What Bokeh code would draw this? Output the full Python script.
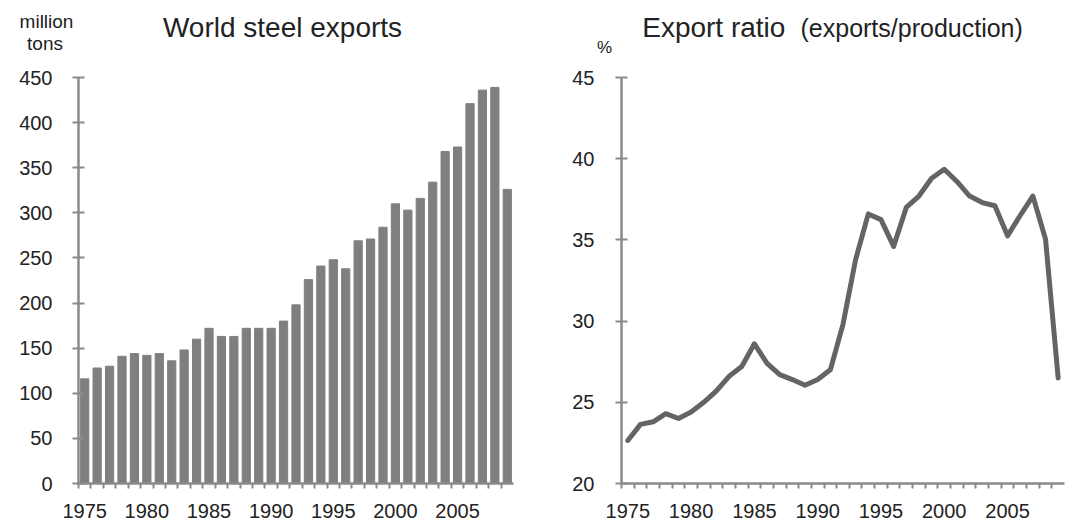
from bokeh.plotting import figure
from bokeh.models import FixedTicker, Range1d
from bokeh.layouts import row, column
from bokeh.core.properties import value
from bokeh.embed import file_html
from bokeh.resources import INLINE

# ---- data ----
years = list(range(1975, 2010))
exports = [116, 128, 130, 141, 144, 142, 144, 136, 148, 160,
           172, 163, 163, 172, 172, 172, 180, 198, 226, 241,
           248, 238, 269, 271, 284, 310, 303, 316, 334, 368,
           373, 421, 436, 439, 326]
ratio = [22.65, 23.64, 23.8, 24.3, 24.0, 24.4, 25.0, 25.7, 26.6, 27.2,
         28.6, 27.4, 26.7, 26.4, 26.05, 26.4, 27.0, 29.8, 33.8, 36.6,
         36.25, 34.6, 37.0, 37.7, 38.8, 39.35, 38.6, 37.7, 37.3, 37.1,
         35.25, 36.5, 37.7, 35.05, 26.5]
year_labels = [1975, 1980, 1985, 1990, 1995, 2000, 2005]
left_ticks = list(range(0, 451, 50))
right_ticks = list(range(20, 46, 5))

FONT = "Liberation Sans"
AXIS = "#8a8a8a"
TXT = "#222222"
HEAD_H = 60


def header(width):
    h = figure(width=width, height=HEAD_H, output_backend="svg", toolbar_location=None,
               x_range=Range1d(0, width), y_range=Range1d(0, HEAD_H),
               x_axis_type=None, y_axis_type=None,
               min_border_left=0, min_border_right=0, min_border_top=0,
               min_border_bottom=0, frame_align=False)
    h.outline_line_color = None
    h.xgrid.visible = False
    h.ygrid.visible = False
    return h


def put(h, x, y, txt, size, align):
    h.text(x=[x], y=[y], text=[txt], text_font=value(FONT),
           text_font_size=value(size), text_color=TXT, text_align=align,
           text_baseline="alphabetic")


def style(p, yticks, ystand):
    p.xgrid.visible = False
    p.ygrid.visible = False
    p.outline_line_color = None
    boundaries = [y - 0.5 for y in years]
    p.xaxis.ticker = FixedTicker(ticks=year_labels, minor_ticks=boundaries)
    p.xaxis.major_tick_line_color = None
    p.xaxis.major_tick_out = 5
    p.xaxis.major_tick_in = 0
    p.xaxis.minor_tick_line_color = AXIS
    p.xaxis.minor_tick_line_width = 2
    p.xaxis.minor_tick_out = 5
    p.xaxis.minor_tick_in = 0
    p.xaxis.major_label_standoff = 15
    p.yaxis.ticker = FixedTicker(ticks=yticks)
    p.yaxis.major_tick_in = 6
    p.yaxis.major_tick_out = 6
    p.yaxis.major_tick_line_color = AXIS
    p.yaxis.major_tick_line_width = 2
    p.yaxis.minor_tick_line_color = None
    p.yaxis.major_label_standoff = ystand
    for ax in (p.xaxis, p.yaxis):
        ax.axis_line_color = AXIS
        ax.axis_line_width = 2.5
        ax.major_label_text_font = FONT
        ax.major_label_text_font_size = "20px"
        ax.major_label_text_color = TXT


# ---- left: bars ----
h1 = header(530)
put(h1, 282, 33, "World steel exports", "28px", "center")
put(h1, 46, 39, "million", "19px", "center")
put(h1, 44.5, 17, "tons", "19px", "center")

p1 = figure(width=530, height=524 - HEAD_H, output_backend="svg", toolbar_location=None,
            x_range=Range1d(1974.5, 2009.5), y_range=Range1d(0, 450),
            min_border_left=78, min_border_right=17, min_border_top=17,
            min_border_bottom=41, frame_align=False)
p1.vbar(x=years, top=exports, width=0.66, color="#7f7f7f")
style(p1, left_ticks, 20)

# ---- right: line ----
h2 = header(538)
put(h2, 111.7, 33, "Export ratio", "28px", "left")
put(h2, 270, 33, "(exports/production)", "25px", "left")
put(h2, 74, 13, "%", "17px", "center")

p2 = figure(width=538, height=524 - HEAD_H, output_backend="svg", toolbar_location=None,
            x_range=Range1d(1974.5, 2009.5), y_range=Range1d(20, 45),
            min_border_left=91, min_border_right=4, min_border_top=17,
            min_border_bottom=41, frame_align=False)
p2.line(x=years, y=ratio, line_color="#646464", line_width=5, line_join="round",
        line_cap="round")
style(p2, right_ticks, 21)

layout = row(column(h1, p1), column(h2, p2))
open("out.html", "w").write(file_html(layout, INLINE))
